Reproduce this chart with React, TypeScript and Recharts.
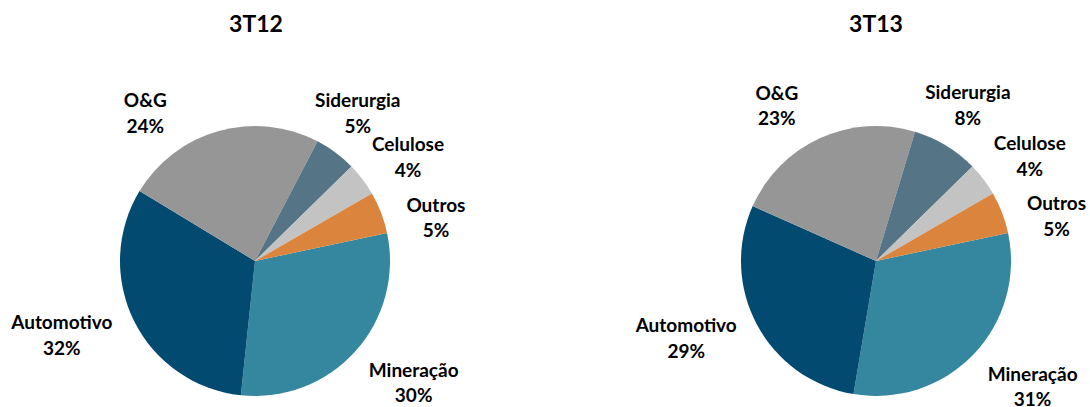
import { PieChart, Pie, Cell } from 'recharts'

const categories = ['Mineração', 'Automotivo', 'O&G', 'Siderurgia', 'Celulose', 'Outros']
const values3T12 = [30, 32, 24, 5, 4, 5]
const values3T13 = [31, 29, 23, 8, 4, 5]
const titles = ['3T12', '3T13']

const colors = ['#34879E', '#034A70', '#969696', '#557587', '#C3C3C3', '#DA843E']

// label placement: angle nudge (deg, clockwise) and distance from centre
const nudges3T12 = [
  { da: -4.5, r: 200 },
  { da: 5.4, r: 207 },
  { da: -21, r: 184 },
  { da: -1.8, r: 180 },
  { da: 3, r: 185 },
  { da: 7.6, r: 186 },
]
const nudges3T13 = [
  { da: -5, r: 201 },
  { da: 6, r: 205 },
  { da: -8, r: 184 },
  { da: -0.7, r: 181 },
  { da: 3, r: 186 },
  { da: 7, r: 186 },
]

const font = 'Lato, "Open Sans", sans-serif'

const toRows = (values: number[]) => categories.map((name, i) => ({ name, value: values[i] }))

const makeLabel = (nudges: { da: number; r: number }[]) => (props: any) => {
  const { cx, cy, midAngle, index, name, value } = props
  const n = nudges[index]
  const a = ((90 - midAngle + n.da) * Math.PI) / 180
  const x = cx + n.r * Math.sin(a)
  const y = cy - n.r * Math.cos(a)
  return (
    <text x={x} y={y} textAnchor="middle" fill="#000" fontFamily={font} fontWeight="bold" fontSize={19}>
      <tspan x={x} dy={-6}>{name}</tspan>
      <tspan x={x} dy={25.5}>{`${value}%`}</tspan>
    </text>
  )
}

export default function App() {
  const centers = [256, 876]
  return (
    <div style={{ position: 'absolute', left: 0, top: 0, width: 1090, height: 407, background: '#fff' }}>
      {titles.map((t, i) => (
        <div
          key={t}
          style={{
            position: 'absolute',
            left: centers[i] - 60,
            width: 120,
            top: 12,
            textAlign: 'center',
            fontFamily: font,
            fontWeight: 'bold',
            fontSize: 23,
            lineHeight: '23px',
          }}
        >
          {t}
        </div>
      ))}
      <PieChart width={1090} height={407} margin={{ top: 0, right: 0, bottom: 0, left: 0 }}>
        <Pie
          data={toRows(values3T12)}
          dataKey="value"
          nameKey="name"
          cx={255}
          cy={261}
          outerRadius={135}
          startAngle={12}
          endAngle={-348}
          stroke="none"
          labelLine={false}
          label={makeLabel(nudges3T12)}
          isAnimationActive={false}
        >
          {categories.map((c, i) => (
            <Cell key={c} fill={colors[i]} />
          ))}
        </Pie>
        <Pie
          data={toRows(values3T13)}
          dataKey="value"
          nameKey="name"
          cx={876}
          cy={261}
          outerRadius={135}
          startAngle={12}
          endAngle={-348}
          stroke="none"
          labelLine={false}
          label={makeLabel(nudges3T13)}
          isAnimationActive={false}
        >
          {categories.map((c, i) => (
            <Cell key={c} fill={colors[i]} />
          ))}
        </Pie>
      </PieChart>
    </div>
  )
}
